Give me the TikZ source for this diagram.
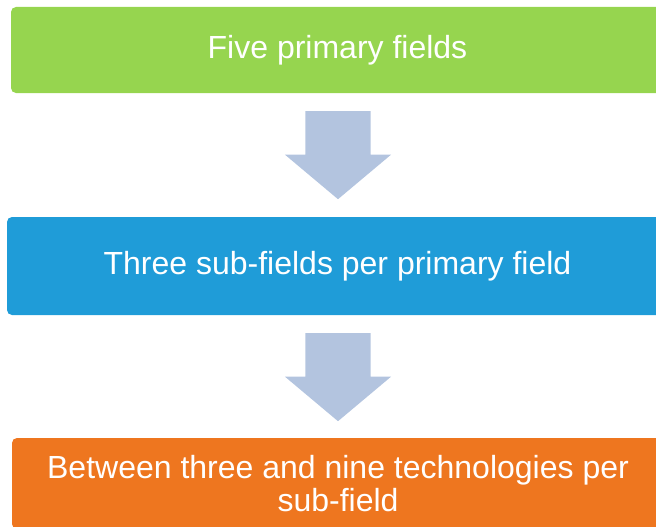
\documentclass[tikz,border=0pt]{standalone}
\usepackage{fontspec}
\setmainfont{Liberation Sans}
\usepackage{tikz}
\usetikzlibrary{shapes.arrows}
\definecolor{fieldgreen}{RGB}{150,213,79}
\definecolor{fieldblue}{RGB}{31,156,216}
\definecolor{fieldorange}{RGB}{238,118,31}
\definecolor{arrowgrey}{RGB}{179,196,223}

\begin{document}
\begin{tikzpicture}[x=1pt,y=-1pt]
            \tikzstyle{level box}=[rectangle,rounded corners=5pt,inner sep=0pt,text=white,align=center,font=\fontsize{32}{33}\selectfont]
            \tikzstyle{down arrow}=[single arrow,rotate=-90,anchor=tail,fill=arrowgrey,inner xsep=0pt,inner ysep=32.5pt,minimum height=88pt,single arrow head extend=20.5pt,single arrow tip angle=100]
            \useasboundingbox (0,0) rectangle (656,527);
            \clip (0,0) rectangle (656,527);
            \node[level box,fill=fieldgreen,minimum width=653pt,minimum height=86pt] (primary) at (337.5,50) {Five primary fields};
            \node[level box,fill=fieldblue,minimum width=661pt,minimum height=98pt] (sub) at (337.5,266) {Three sub-fields per primary field};
            \node[level box,fill=fieldorange,minimum width=652pt,minimum height=91pt] (tech) at (338,483.5) {Between three and nine technologies per\\sub-field};
            \node[down arrow] (primary-sub) at (338,111) {};
            \node[down arrow] (sub-tech) at (338,333) {};
        \end{tikzpicture}
\end{document}
